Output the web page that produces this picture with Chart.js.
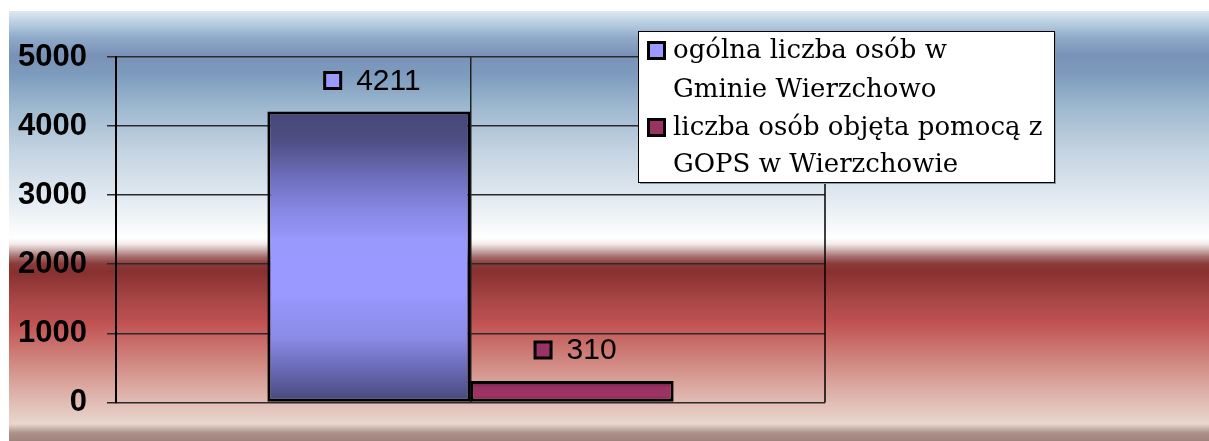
<!DOCTYPE html>
<html>
<head>
<meta charset="utf-8">
<script src="https://cdn.jsdelivr.net/npm/chart.js@4.4.1/dist/chart.umd.min.js"></script>
<style>
  html, body { margin: 0; padding: 0; background: #fff; }
</style>
</head>
<body>
<canvas id="wykres" width="1209" height="441"></canvas>
<script>
// dane
const kategorie = [''];
const ogolnaLiczba = [4211];
const objetaPomoca = [310];
const nazwySerii = [
  ['ogólna liczba osób w', 'Gminie Wierzchowo'],
  ['liczba osób objęta pomocą z', 'GOPS w Wierzchowie']
];
const podzialkaY = [0, 1000, 2000, 3000, 4000, 5000];

const kolorySerii = ['#9999ff', '#993366'];
const gradNiebieski = [[0, '#47477a'], [0.1, '#4e4e84'], [0.21, '#6a6ab6'], [0.33, '#8585e2'],
  [0.44, '#9898fd'], [0.62, '#9999ff'], [0.78, '#8a8ae8'], [0.89, '#6868b2'], [1, '#47477a']];
const gradBordowy = [[0, '#6a1c40'], [0.3, '#9a3264'], [0.7, '#9e3366'], [1, '#6a1c40']];

function wypelnienie(stops, solid) {
  return (ctx) => {
    const chart = ctx.chart;
    const y = chart.scales && chart.scales.y;
    if (!chart.chartArea || !y || ctx.type !== 'data') return solid;
    const top = y.getPixelForValue(ctx.raw);
    const bottom = y.getPixelForValue(0);
    const g = chart.ctx.createLinearGradient(0, top, 0, bottom);
    stops.forEach(([o, c]) => g.addColorStop(o, c));
    return g;
  };
}

// tlo wykresu - poziome pasy
const tlo = {
  id: 'tlo',
  beforeDraw(chart) {
    const c = chart.ctx;
    c.save();
    c.fillStyle = '#fff';
    c.fillRect(0, 0, chart.width, chart.height);
    const y0 = 11, y1 = chart.height;
    const h = y1 - y0;
    const g = c.createLinearGradient(0, y0, 0, y1);
    const stops = [
      [11, '#dde8f2'], [22, '#bcd0e2'], [38, '#8eaac8'], [55, '#7991b7'], [75, '#7d9cbe'],
      [110, '#a0bad0'], [150, '#c3d3e1'], [200, '#e3ebf2'], [238, '#ffffff'], [244, '#f4eaea'],
      [250, '#cdb0b0'], [257, '#a46a6a'], [264, '#8a3a38'], [272, '#883030'], [300, '#a84646'],
      [323, '#c05252'], [350, '#cc7772'], [380, '#d8a098'], [410, '#e4c6be'], [424, '#ead6cd'],
      [428, '#cbb7ae'], [433, '#ab918a'], [441, '#a0837c']
    ];
    stops.forEach(([y, col]) => g.addColorStop((y - y0) / h, col));
    c.fillStyle = g;
    c.fillRect(9, y0, chart.width - 9, h);
    c.restore();
  }
};

// prawa krawedz obszaru wykresu
const ramka = {
  id: 'ramka',
  beforeDatasetsDraw(chart) {
    const { ctx, chartArea } = chart;
    ctx.save();
    ctx.strokeStyle = '#000';
    ctx.lineWidth = 1.5;
    ctx.beginPath();
    ctx.moveTo(chartArea.right, chartArea.top);
    ctx.lineTo(chartArea.right, chartArea.bottom);
    ctx.stroke();
    ctx.restore();
  }
};

function kwadrat(c, x, y, size, fill) {
  c.fillStyle = '#000';
  c.fillRect(x, y, size, size);
  c.fillStyle = fill;
  c.fillRect(x + 3, y + 3, size - 6, size - 6);
}

// etykiety wartosci nad slupkami
const etykiety = {
  id: 'etykiety',
  afterDatasetsDraw(chart) {
    const c = chart.ctx;
    c.save();
    c.font = '30px "Liberation Sans", Arial, sans-serif';
    c.textBaseline = 'middle';
    c.textAlign = 'left';
    chart.data.datasets.forEach((ds, i) => {
      const bar = chart.getDatasetMeta(i).data[0];
      const txt = String(ds.data[0]);
      const tw = c.measureText(txt).width;
      const gw = 19 + 14 + tw;
      const x = bar.x + 3 - gw / 2;
      const yc = bar.y - 31;
      kwadrat(c, x, yc - 9.5, 19, kolorySerii[i]);
      c.fillStyle = '#000';
      c.fillText(txt, x + 33, yc + 1);
    });
    c.restore();
  }
};

// legenda w ramce
const legenda = {
  id: 'legenda',
  afterDraw(chart) {
    const c = chart.ctx;
    const bx = 638, by = 31, bw = 416, bh = 151;
    c.save();
    c.fillStyle = '#8a96a6';
    c.fillRect(bx + 2, by + 2, bw, bh);
    c.fillStyle = '#fff';
    c.fillRect(bx, by, bw, bh);
    c.strokeStyle = '#000';
    c.lineWidth = 1;
    c.strokeRect(bx + 0.5, by + 0.5, bw, bh);
    c.font = '26px "DejaVu Serif", serif';
    c.textBaseline = 'alphabetic';
    c.fillStyle = '#000';
    const baseY = [[58, 97], [135, 172]];
    nazwySerii.forEach((linie, i) => {
      kwadrat(c, 647, baseY[i][0] - 17, 19, kolorySerii[i]);
      c.fillStyle = '#000';
      linie.forEach((t, j) => c.fillText(t, 673, baseY[i][j]));
    });
    c.restore();
  }
};

new Chart(document.getElementById('wykres'), {
  type: 'bar',
  data: {
    labels: kategorie,
    datasets: [
      {
        label: nazwySerii[0].join(' '),
        data: ogolnaLiczba,
        backgroundColor: wypelnienie(gradNiebieski, kolorySerii[0]),
        borderColor: '#000',
        borderWidth: 3,
        borderSkipped: false
      },
      {
        label: nazwySerii[1].join(' '),
        data: objetaPomoca,
        backgroundColor: wypelnienie(gradBordowy, kolorySerii[1]),
        borderColor: '#000',
        borderWidth: 3,
        borderSkipped: false
      }
    ]
  },
  options: {
    responsive: false,
    animation: false,
    layout: { padding: { top: 57, right: 384, bottom: 36, left: 0 } },
    datasets: { bar: { barPercentage: 1, categoryPercentage: 0.573 } },
    plugins: { legend: { display: false }, tooltip: { enabled: false } },
    scales: {
      x: {
        grid: { offset: false, color: '#222', lineWidth: 1.5, drawTicks: false },
        ticks: { display: false },
        border: { display: false },
        afterFit: (s) => { s.height = 0; }
      },
      y: {
        min: 0,
        max: 5000,
        afterBuildTicks: (s) => { s.ticks = podzialkaY.map(v => ({ value: v })); },
        ticks: {
          padding: 20,
          color: '#000',
          callback: (v) => String(v),
          font: { family: '"Liberation Sans", Arial, sans-serif', size: 31, weight: 'bold' }
        },
        grid: { color: '#2a2a2a', lineWidth: 1.5, tickLength: 9 },
        border: { color: '#000', width: 2 },
        afterFit: (s) => { s.width = 116; }
      }
    }
  },
  plugins: [tlo, ramka, etykiety, legenda]
});
</script>
</body>
</html>
